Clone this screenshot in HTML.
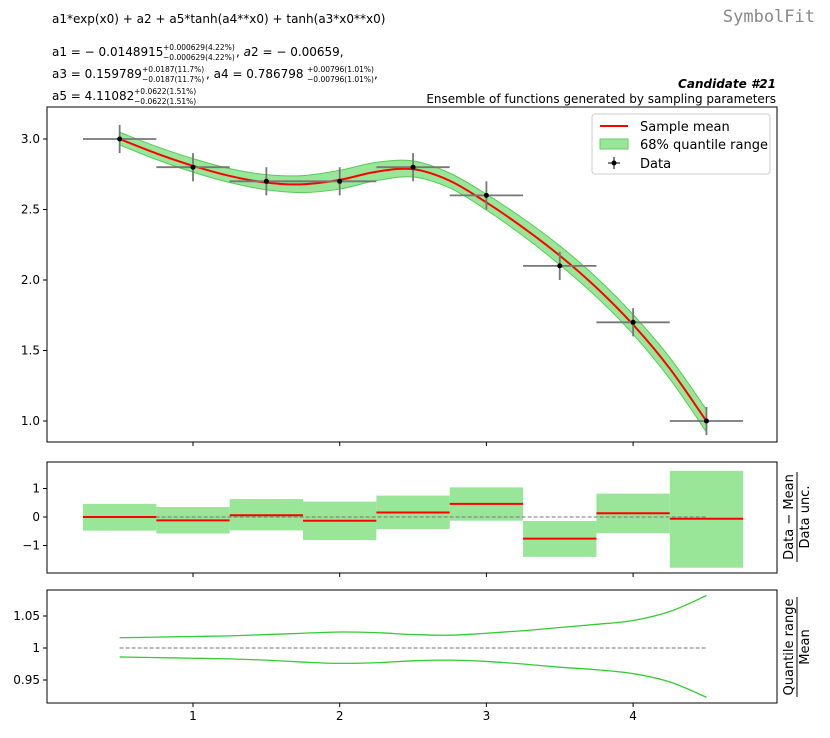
<!DOCTYPE html>
<html><head><meta charset="utf-8"><style>
body{margin:0;background:#fff}
svg{display:block;font-family:"DejaVu Sans","Liberation Sans",sans-serif}
</style></head><body>
<svg id="c" width="830" height="738" viewBox="0 0 830 738">
<text x="52" y="23" font-size="12">a1*exp(x0) + a2 + a5*tanh(a4**x0) + tanh(a3*x0**x0)</text>
<g font-size="12">
<text x="52" y="56">a1 = − 0.0148915</text><text x="163" y="50" font-size="7.5">+0.000629(4.22%)</text><text x="163" y="60" font-size="7.5">−0.000629(4.22%)</text><text x="236" y="56">,  <tspan font-style="italic">a</tspan>2 = − 0.00659,</text>
<text x="52" y="78">a3 = 0.159789</text><text x="142" y="72" font-size="7.5">+0.0187(11.7%)</text><text x="142" y="82" font-size="7.5">−0.0187(11.7%)</text><text x="206" y="78">,  a4 = 0.786798</text><text x="307" y="72" font-size="7.5">+0.00796(1.01%)</text><text x="307" y="82" font-size="7.5">−0.00796(1.01%)</text><text x="374" y="78">,</text>
<text x="52" y="100">a5 = 4.11082</text><text x="134" y="94" font-size="7.5">+0.0622(1.51%)</text><text x="134" y="104" font-size="7.5">−0.0622(1.51%)</text>
</g>
<text x="815" y="22" font-size="17" text-anchor="end" fill="#888" font-family="'DejaVu Sans Mono','Liberation Mono',monospace">SymbolFit</text>
<text x="776" y="88" font-size="12" text-anchor="end" font-weight="bold" font-style="italic">Candidate #21</text>
<text x="776" y="103" font-size="12" text-anchor="end">Ensemble of functions generated by sampling parameters</text>
<g id="main"></g>
<g id="mid"></g>
<g id="bot"></g>
<g>
<rect x="592" y="114" width="178" height="60" fill="#fff" stroke="#ccc" rx="3"/>
<line x1="600" y1="126" x2="628" y2="126" stroke="red" stroke-width="2"/><text x="640" y="131" font-size="13">Sample mean</text>
<rect x="600" y="139" width="28" height="10" fill="#99e699" stroke="#6c6"/><text x="640" y="149" font-size="13">68% quantile range</text>
<line x1="614" y1="157" x2="614" y2="169" stroke="#000"/><line x1="608" y1="163" x2="620" y2="163" stroke="#000"/><circle cx="614" cy="163" r="2.5"/><text x="640" y="168" font-size="13">Data</text>
</g>
<g font-size="13">
<g transform="translate(797,517) rotate(-90)"><text x="0" y="-4" text-anchor="middle">Data − Mean</text><line x1="-45" y1="0" x2="45" y2="0" stroke="#000"/><text x="0" y="12" text-anchor="middle">Data unc.</text></g>
<g transform="translate(797,647) rotate(-90)"><text x="0" y="-4" text-anchor="middle">Quantile range</text><line x1="-50" y1="0" x2="50" y2="0" stroke="#000"/><text x="0" y="12" text-anchor="middle">Mean</text></g>
</g>
</svg>
<script>
const dataX=[0.5,1,1.5,2,2.5,3,3.5,4,4.5];
const dataY=[3.0,2.8,2.7,2.7,2.8,2.6,2.1,1.7,1.0];
const dataYErr=[0.1,0.1,0.1,0.1,0.1,0.1,0.1,0.1,0.1];
const dataXErr=[0.25,0.25,0.25,0.25,0.25,0.25,0.25,0.25,0.25];
const curveX=[0.5,0.75,1,1.25,1.5,1.75,2,2.25,2.5,2.75,3,3.25,3.5,3.75,4,4.25,4.5];
const meanY=[3.000,2.898,2.810,2.738,2.691,2.679,2.710,2.768,2.786,2.704,2.550,2.372,2.173,1.946,1.683,1.372,0.999];
const upperRatio=[1.016,1.017,1.018,1.019,1.021,1.023,1.025,1.024,1.021,1.020,1.023,1.027,1.032,1.037,1.043,1.057,1.082];
const lowerRatio=[0.986,0.985,0.984,0.983,0.981,0.978,0.976,0.977,0.980,0.981,0.979,0.975,0.970,0.966,0.960,0.947,0.923];
const resid=[0,-0.12,0.06,-0.13,0.16,0.46,-0.76,0.13,-0.06];
const residHi=[0.46,0.35,0.63,0.54,0.75,1.04,-0.14,0.82,1.62];
const residLo=[-0.48,-0.58,-0.47,-0.81,-0.42,-0.13,-1.40,-0.57,-1.78];
const xTicks=[1,2,3,4];
const mainYTicks=[1.0,1.5,2.0,2.5,3.0];
const mainYLabels=["1.0","1.5","2.0","2.5","3.0"];
const midYTicks=[-1,0,1];
const midYLabels=["−1","0","1"];
const botYTicks=[0.95,1,1.05];
const botYLabels=["0.95","1","1.05"];

const NS="http://www.w3.org/2000/svg";
const L=47,R=777;
const X=v=>193+(v-1)*146.7;
const Ym=v=>139+(3-v)*141;
const Yr=v=>517-v*28.5;
const Yb=v=>648-(v-1)*640;
function mk(p,t,a){const e=document.createElementNS(NS,t);for(const k in a)e.setAttribute(k,a[k]);p.appendChild(e);return e;}
function smooth(pts){let d="M"+pts[0][0]+","+pts[0][1];for(let i=0;i<pts.length-1;i++){const p0=pts[Math.max(i-1,0)],p1=pts[i],p2=pts[i+1],p3=pts[Math.min(i+2,pts.length-1)];d+=" C"+(p1[0]+(p2[0]-p0[0])/6)+","+(p1[1]+(p2[1]-p0[1])/6)+" "+(p2[0]-(p3[0]-p1[0])/6)+","+(p2[1]-(p3[1]-p1[1])/6)+" "+p2[0]+","+p2[1];}return d;}
function axes(g,top,bot,Yf,ticks,labels,showX){
  mk(g,"rect",{x:L,y:top,width:R-L,height:bot-top,fill:"none",stroke:"#000","stroke-width":1});
  xTicks.forEach(t=>{mk(g,"line",{x1:X(t),y1:bot,x2:X(t),y2:bot+4,stroke:"#000"});
    if(showX){const tx=mk(g,"text",{x:X(t),y:bot+17,"font-size":12,"text-anchor":"middle"});tx.textContent=t;}});
  ticks.forEach((t,i)=>{mk(g,"line",{x1:L-4,y1:Yf(t),x2:L,y2:Yf(t),stroke:"#000"});
    const tx=mk(g,"text",{x:L-7,y:Yf(t)+4,"font-size":12,"text-anchor":"end"});tx.textContent=labels[i];});
}
const gm=document.getElementById("main");
const up=curveX.map((x,i)=>[X(x),Ym(meanY[i]*upperRatio[i])]);
const lo=curveX.map((x,i)=>[X(x),Ym(meanY[i]*lowerRatio[i])]).reverse();
const band=mk(gm,"path",{d:smooth(up)+" L"+smooth(lo).slice(1)+" Z",fill:"#99e699",stroke:"#5c5","stroke-width":1});


const ml=mk(gm,"path",{d:smooth(curveX.map((x,i)=>[X(x),Ym(meanY[i])])),fill:"none",stroke:"red","stroke-width":2});


dataX.forEach((x,i)=>{
  const g=mk(gm,"g",{});
  
  
  mk(g,"line",{x1:X(x-dataXErr[i]),y1:Ym(dataY[i]),x2:X(x+dataXErr[i]),y2:Ym(dataY[i]),stroke:"#777","stroke-width":1.8});
  mk(g,"line",{x1:X(x),y1:Ym(dataY[i]-dataYErr[i]),x2:X(x),y2:Ym(dataY[i]+dataYErr[i]),stroke:"#777","stroke-width":1.8});
  mk(g,"circle",{cx:X(x),cy:Ym(dataY[i]),r:2.5,fill:"#000"});
});
axes(gm,107,442,Ym,mainYTicks,mainYLabels,false);
const gr=document.getElementById("mid");
dataX.forEach((x,i)=>{
  const b=mk(gr,"rect",{x:X(x-0.25),y:Yr(residHi[i]),width:X(x+0.25)-X(x-0.25),height:Yr(residLo[i])-Yr(residHi[i]),fill:"#99e699"});
  
  
});
mk(gr,"line",{x1:X(0.5),y1:Yr(0),x2:X(4.5),y2:Yr(0),stroke:"#777","stroke-dasharray":"4,2"});
dataX.forEach((x,i)=>{
  const r=mk(gr,"line",{x1:X(x-0.25),y1:Yr(resid[i]),x2:X(x+0.25),y2:Yr(resid[i]),stroke:"red","stroke-width":2});
  
  
});
axes(gr,462,573,Yr,midYTicks,midYLabels,false);
const gb=document.getElementById("bot");
mk(gb,"line",{x1:X(0.5),y1:Yb(1),x2:X(4.5),y2:Yb(1),stroke:"#777","stroke-dasharray":"4,2"});
[upperRatio,lowerRatio].forEach((arr,k)=>{
  const p=mk(gb,"path",{d:smooth(curveX.map((x,i)=>[X(x),Yb(arr[i])])),fill:"none",stroke:"#3c3","stroke-width":1.3});
  
  
});
axes(gb,590,703,Yb,botYTicks,botYLabels,true);
</script>
</body></html>
